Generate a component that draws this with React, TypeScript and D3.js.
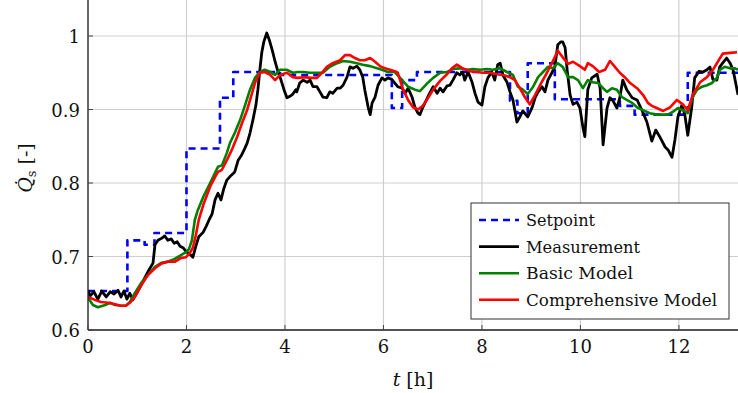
import * as d3 from "d3";
import { useEffect } from "react";

// [t in h, Q_s] pairs
const setpoint: [number, number][] = [
	[0, 0.653], [0.8, 0.722], [1.15, 0.716], [1.35, 0.732], [2.0, 0.847], [2.68, 0.916],
	[2.95, 0.951], [3.9, 0.947], [6.17, 0.902], [6.38, 0.94], [6.68, 0.951], [8.57, 0.912],
	[8.72, 0.895], [8.93, 0.963], [9.48, 0.914], [10.8, 0.905], [11.1, 0.893], [12.18, 0.95],
	[13.3, 0.95],
];

const measurement: [number, number][] = [
	[0, .654], [0.04, .646], [0.12, .652], [0.2, .642], [0.28, .653], [0.37, .645], [0.45, .652],
	[0.53, .649], [0.61, .654], [0.67, .645], [0.73, .653], [0.79, .642], [0.85, .650], [0.91, .641],
	[0.99, .650], [1.08, .661], [1.16, .672], [1.24, .682], [1.32, .691], [1.36, .716], [1.42, .722],
	[1.50, .725], [1.56, .728], [1.62, .722], [1.69, .724], [1.75, .718], [1.81, .720], [1.87, .714],
	[1.93, .712], [1.99, .707], [2.07, .703], [2.13, .699], [2.19, .714], [2.25, .727], [2.34, .733],
	[2.40, .741], [2.46, .750], [2.52, .758], [2.58, .777], [2.64, .786], [2.70, .777], [2.76, .793],
	[2.82, .804], [2.90, .810], [2.98, .815], [3.05, .831], [3.11, .837], [3.17, .845], [3.23, .854],
	[3.29, .868], [3.35, .886], [3.41, .906], [3.45, .927], [3.49, .954], [3.53, .978], [3.57, .992],
	[3.63, 1.004], [3.68, .995], [3.74, .981], [3.80, .965], [3.86, .951], [3.92, .940], [3.98, .927],
	[4.04, .916], [4.10, .918], [4.16, .921], [4.22, .927], [4.24, .924], [4.30, .936], [4.37, .940],
	[4.45, .937], [4.51, .940], [4.57, .931], [4.65, .931], [4.71, .924], [4.77, .917], [4.85, .916],
	[4.91, .924], [4.97, .922], [5.06, .929], [5.12, .929], [5.18, .933], [5.26, .944], [5.32, .958],
	[5.38, .956], [5.46, .959], [5.52, .954], [5.58, .944], [5.62, .927], [5.69, .903], [5.73, .893],
	[5.77, .909], [5.83, .917], [5.89, .933], [5.97, .943], [6.03, .940], [6.09, .943], [6.17, .941],
	[6.23, .936], [6.29, .931], [6.38, .929], [6.44, .922], [6.50, .929], [6.58, .917], [6.64, .903],
	[6.70, .895], [6.74, .893], [6.80, .903], [6.90, .917], [7.01, .931], [7.09, .922], [7.15, .929],
	[7.21, .924], [7.29, .932], [7.35, .933], [7.41, .940], [7.49, .950], [7.55, .947], [7.61, .951],
	[7.65, .940], [7.72, .951], [7.80, .937], [7.86, .922], [7.92, .910], [8.00, .906], [8.06, .931],
	[8.12, .943], [8.20, .951], [8.26, .940], [8.32, .961], [8.37, .963], [8.43, .946], [8.51, .937],
	[8.57, .924], [8.63, .913], [8.71, .883], [8.77, .890], [8.83, .898], [8.93, .890], [9.02, .903],
	[9.08, .916], [9.14, .924], [9.22, .931], [9.28, .924], [9.34, .940], [9.42, .950], [9.48, .958],
	[9.54, .988], [9.60, .992], [9.64, .992], [9.69, .984], [9.73, .954], [9.79, .920], [9.85, .907],
	[9.93, .910], [9.99, .902], [10.05, .876], [10.09, .863], [10.15, .927], [10.23, .943], [10.34, .948],
	[10.40, .929], [10.46, .852], [10.54, .902], [10.60, .916], [10.66, .912], [10.74, .902], [10.80, .916],
	[10.86, .940], [10.94, .927], [11.05, .916], [11.15, .913], [11.25, .899], [11.35, .883], [11.45, .857],
	[11.53, .872], [11.61, .863], [11.72, .849], [11.78, .845], [11.86, .835], [11.92, .859], [11.98, .890],
	[12.06, .906], [12.12, .893], [12.18, .865], [12.26, .903], [12.32, .943], [12.41, .952], [12.49, .951],
	[12.57, .954], [12.63, .958], [12.69, .941], [12.77, .940], [12.83, .958], [12.91, .965], [12.97, .970],
	[13.04, .963], [13.10, .954], [13.20, .920],
];

const basicModel: [number, number][] = [
	[0, .644], [0.10, .634], [0.20, .631], [0.35, .634], [0.45, .637], [0.55, .634], [0.67, .633],
	[0.77, .633], [0.85, .638], [0.95, .650], [1.08, .664], [1.22, .675], [1.36, .686], [1.48, .691],
	[1.62, .693], [1.77, .697], [1.89, .702], [1.99, .706], [2.05, .710], [2.11, .722], [2.17, .750],
	[2.23, .763], [2.34, .781], [2.48, .800], [2.58, .814], [2.64, .822], [2.72, .824], [2.82, .841],
	[2.88, .854], [2.98, .868], [3.09, .886], [3.19, .906], [3.29, .927], [3.39, .943], [3.49, .951],
	[3.59, .954], [3.70, .951], [3.80, .947], [3.90, .954], [4.04, .954], [4.16, .950], [4.26, .951],
	[4.37, .951], [4.51, .950], [4.65, .950], [4.77, .950], [4.91, .958], [5.06, .963], [5.18, .966],
	[5.32, .965], [5.46, .963], [5.58, .961], [5.73, .959], [5.87, .956], [5.97, .954], [6.09, .951],
	[6.23, .951], [6.38, .940], [6.50, .931], [6.64, .927], [6.74, .925], [6.88, .935], [7.01, .943],
	[7.15, .950], [7.29, .951], [7.41, .955], [7.55, .956], [7.70, .954], [7.82, .955], [7.96, .954],
	[8.10, .955], [8.22, .954], [8.37, .956], [8.51, .951], [8.63, .947], [8.73, .931], [8.83, .927],
	[8.93, .921], [9.04, .931], [9.14, .944], [9.24, .951], [9.34, .958], [9.44, .956], [9.54, .963],
	[9.64, .958], [9.75, .944], [9.85, .944], [9.95, .940], [10.05, .929], [10.15, .940], [10.25, .937],
	[10.36, .936], [10.46, .929], [10.54, .924], [10.64, .929], [10.74, .927], [10.84, .917], [10.94, .913],
	[11.05, .909], [11.15, .903], [11.27, .899], [11.41, .895], [11.55, .893], [11.68, .893], [11.78, .893],
	[11.88, .897], [11.98, .902], [12.08, .899], [12.18, .895], [12.28, .917], [12.37, .927], [12.47, .931],
	[12.57, .933], [12.67, .936], [12.77, .943], [12.83, .954], [12.93, .958], [13.04, .956], [13.14, .956],
	[13.20, .954],
];

const comprehensiveModel: [number, number][] = [
	[0, .645], [0.14, .641], [0.26, .638], [0.41, .637], [0.55, .635], [0.67, .633], [0.77, .633],
	[0.85, .637], [0.95, .645], [1.08, .661], [1.22, .675], [1.36, .684], [1.48, .690], [1.62, .693],
	[1.77, .693], [1.89, .698], [1.99, .699], [2.07, .705], [2.13, .712], [2.19, .729], [2.25, .750],
	[2.34, .770], [2.48, .795], [2.58, .808], [2.64, .815], [2.72, .818], [2.82, .831], [2.92, .845],
	[3.03, .863], [3.13, .882], [3.23, .899], [3.33, .922], [3.39, .936], [3.49, .950], [3.59, .951],
	[3.70, .947], [3.80, .940], [3.90, .947], [4.04, .950], [4.16, .944], [4.26, .943], [4.41, .944],
	[4.51, .943], [4.65, .943], [4.75, .950], [4.85, .958], [4.97, .963], [5.12, .967], [5.22, .974],
	[5.32, .974], [5.42, .970], [5.52, .967], [5.62, .967], [5.73, .970], [5.83, .965], [5.93, .959],
	[6.03, .956], [6.13, .954], [6.23, .952], [6.29, .950], [6.40, .927], [6.50, .913], [6.60, .903],
	[6.70, .900], [6.80, .905], [6.88, .913], [7.01, .927], [7.15, .939], [7.29, .948], [7.39, .956],
	[7.49, .961], [7.61, .956], [7.76, .952], [7.90, .951], [8.02, .950], [8.16, .950], [8.30, .948],
	[8.43, .947], [8.57, .944], [8.67, .940], [8.77, .929], [8.87, .917], [8.97, .907], [9.08, .920],
	[9.18, .933], [9.32, .950], [9.42, .963], [9.54, .980], [9.64, .971], [9.75, .962], [9.85, .965],
	[9.99, .959], [10.09, .954], [10.15, .963], [10.25, .959], [10.38, .951], [10.50, .954], [10.60, .966],
	[10.70, .958], [10.80, .950], [10.90, .944], [11.01, .936], [11.15, .929], [11.27, .920], [11.37, .909],
	[11.45, .905], [11.55, .902], [11.68, .898], [11.82, .903], [11.96, .913], [12.08, .907], [12.18, .899],
	[12.28, .920], [12.43, .937], [12.57, .944], [12.69, .954], [12.79, .965], [12.89, .976], [13.04, .977],
	[13.18, .978],
];

const xTicks = [0, 2, 4, 6, 8, 10, 12];
const yTicks = [0.6, 0.7, 0.8, 0.9, 1];

const legendItems = [
	{ label: "Setpoint", color: "#0000ff", dash: "7,5", width: 69 },
	{ label: "Measurement", color: "#000000", dash: null, width: 114 },
	{ label: "Basic Model", color: "#008000", dash: null, width: 107 },
	{ label: "Comprehensive Model", color: "#ff0000", dash: null, width: 191 },
];

const W = 738;
const H = 393;
const margin = { left: 88, right: 0, top: 0, bottom: 63 };
const font = '"DejaVu Serif", serif';

export default function App() {
	useEffect(() => {
		document.body.style.margin = "0";
	}, []);

	const x = d3.scaleLinear().domain([0, 13.2]).range([margin.left, W - margin.right]);
	const y = d3.scaleLinear().domain([0.6, 1.05]).range([H - margin.bottom, -0.75]);

	const line = d3.line<[number, number]>().x((d) => x(d[0])).y((d) => y(d[1]));
	const stepLine = d3
		.line<[number, number]>()
		.x((d) => x(d[0]))
		.y((d) => y(d[1]))
		.curve(d3.curveStepAfter);

	const x0 = margin.left;
	const x1 = W;
	const yb = H - margin.bottom;

	// legend box
	const lg = { x: 471, y: 203, w: 258, h: 116, row: 26.6 };
	const tick = { fontFamily: font, fontSize: "18px" };
	const lab = { fontFamily: font, fontSize: "19px" };
	const leg = { fontFamily: font, fontSize: "17px" };

	return (
		<svg width={W} height={H} style={{ position: "absolute", left: 0, top: 0, background: "#fff" }}>
			<defs>
				<clipPath id="plot">
					<rect x={x0} y={0} width={x1 - x0} height={yb} />
				</clipPath>
			</defs>

			{/* grid */}
			{xTicks.map((t) => (
				<line key={"gx" + t} x1={x(t)} x2={x(t)} y1={0} y2={yb} stroke="#cfcfcf" strokeWidth={1.2} />
			))}
			{yTicks.map((t) => (
				<line key={"gy" + t} x1={x0} x2={x1} y1={y(t)} y2={y(t)} stroke="#cfcfcf" strokeWidth={1.2} />
			))}

			{/* series */}
			<g clipPath="url(#plot)" fill="none" strokeLinejoin="round">
				<path d={stepLine(setpoint) || ""} stroke="#0000ff" strokeWidth={2.6} strokeDasharray="7,5" />
				<path d={line(measurement) || ""} stroke="#000000" strokeWidth={2.8} />
				<path d={line(basicModel) || ""} stroke="#008000" strokeWidth={2.6} />
				<path d={line(comprehensiveModel) || ""} stroke="#ff0000" strokeWidth={2.6} />
			</g>

			{/* axes */}
			<line x1={x0} x2={x0} y1={0} y2={yb} stroke="#222" strokeWidth={1.3} />
			<line x1={x0} x2={x1} y1={yb} y2={yb} stroke="#222" strokeWidth={1.3} />
			{xTicks.map((t) => (
				<line key={"tx" + t} x1={x(t)} x2={x(t)} y1={yb} y2={yb - 5} stroke="#444" strokeWidth={1} />
			))}
			{yTicks.map((t) => (
				<line key={"ty" + t} x1={x0} x2={x0 + 5} y1={y(t)} y2={y(t)} stroke="#444" strokeWidth={1} />
			))}

			{/* tick labels */}
			<g fill="#111">
				{xTicks.map((t) => (
					<text key={"lx" + t} style={tick} x={x(t)} y={yb + 23} textAnchor="middle">
						{t}
					</text>
				))}
				{yTicks.map((t) => (
					<text key={"ly" + t} style={tick} x={x0 - 8} y={y(t) + 7} textAnchor="end">
						{t === 1 ? "1" : t.toFixed(1)}
					</text>
				))}
				<text style={lab} x={(x0 + x1) / 2} y={386} textAnchor="middle">
					<tspan fontStyle="italic">t</tspan> [h]
				</text>
				<text style={lab} transform={`translate(32,168) rotate(-90)`} textAnchor="middle">
					<tspan fontStyle="italic">Q̇</tspan>
					<tspan fontSize={13} dy={4}>s</tspan>
					<tspan dy={-4}> [-]</tspan>
				</text>
			</g>

			{/* legend */}
			<g fill="#111">
				<rect x={lg.x} y={lg.y} width={lg.w} height={lg.h} fill="#fff" stroke="#333" strokeWidth={1} />
				{legendItems.map((it, i) => {
					const cy = lg.y + 17 + i * lg.row;
					return (
						<g key={it.label}>
							<line
								x1={lg.x + 8}
								x2={lg.x + 48}
								y1={cy}
								y2={cy}
								stroke={it.color}
								strokeWidth={2.6}
								strokeDasharray={it.dash || undefined}
							/>
							<text
								style={leg}
								x={lg.x + 55}
								y={cy + 6}
								textLength={it.width}
								lengthAdjust="spacingAndGlyphs"
							>
								{it.label}
							</text>
						</g>
					);
				})}
			</g>
		</svg>
	);
}
